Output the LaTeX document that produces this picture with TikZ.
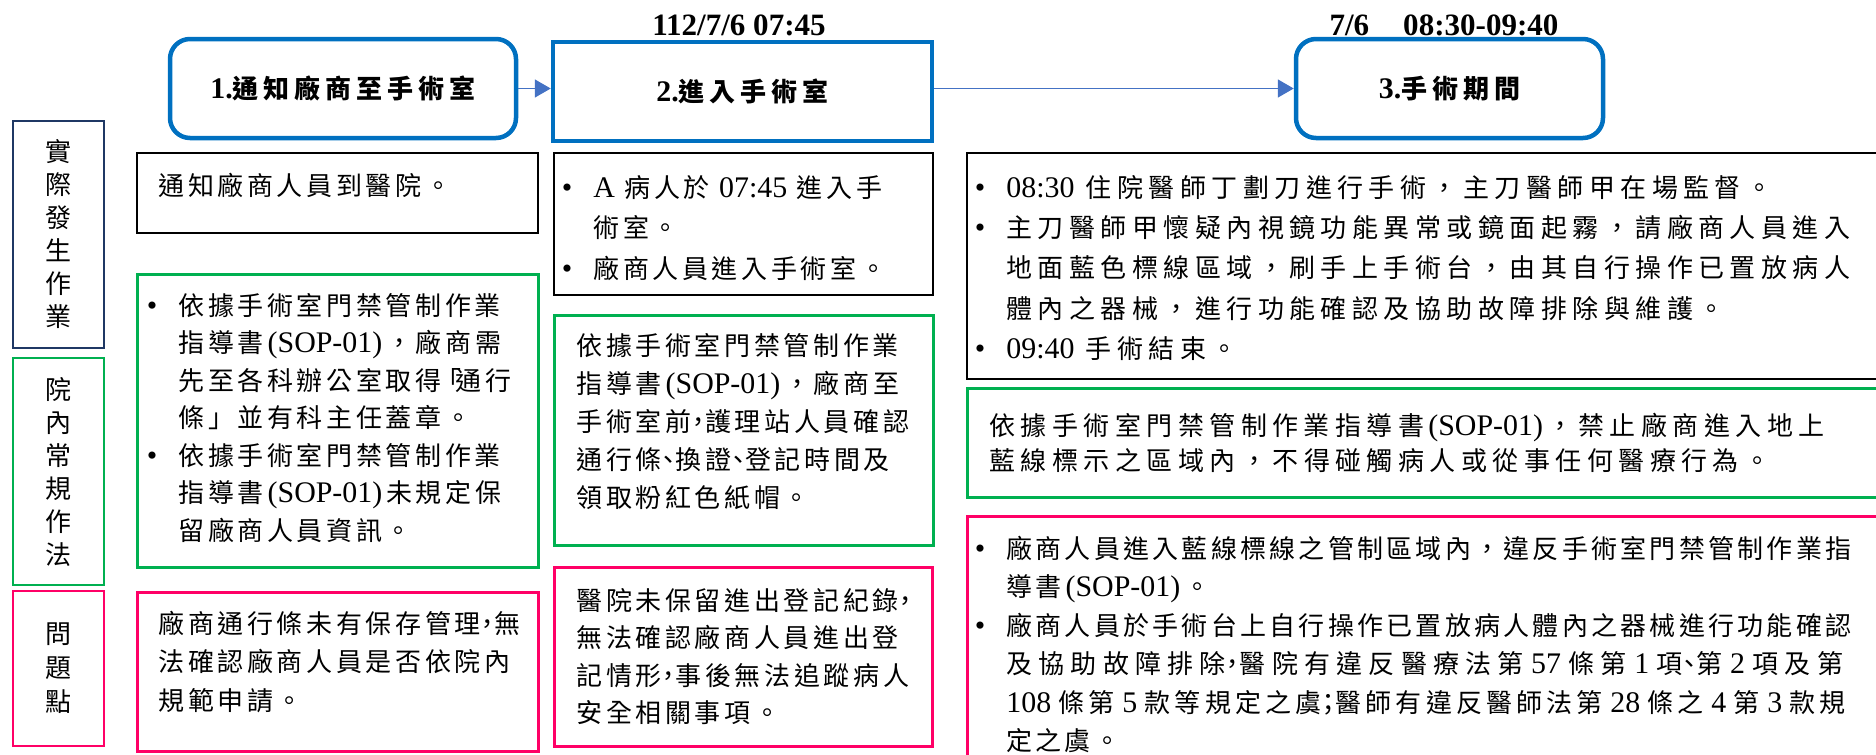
\documentclass[tikz,border=0pt]{standalone}
\usepackage{fontspec}
\usetikzlibrary{arrows.meta}
\setmainfont{Liberation Serif}[Scale=1.15]
\newfontfamily\cjkL[LetterSpace=14]{Noto Sans CJK TC}
\newfontfamily\cjkR[LetterSpace=21]{Noto Sans CJK TC}
\newfontfamily\cjkC[LetterSpace=12.5]{Noto Sans CJK TC}
\newfontfamily\cjkT[LetterSpace=19]{Noto Sans CJK TC}
\newfontfamily\cjkV{Noto Sans CJK TC}
\newcommand\en[1]{{\rmfamily #1}}
\newcommand\tp{\rule{0pt}{12.5pt}}
\newcommand\bul{\llap{\rmfamily •\hspace{10.5pt}}}
\newcommand\nc[1]{\makebox[7pt][c]{#1}}
\newcommand\sop{\hspace{2pt}\en{(SOP-01)}\hspace{2pt}}
\definecolor{tblue}{HTML}{0070C0}
\definecolor{arrblue}{HTML}{4472C4}
\definecolor{navy}{HTML}{1F3864}
\definecolor{grn}{HTML}{00B050}
\definecolor{pnk}{HTML}{FF0066}
\tikzset{
  tbox/.style={draw=tblue, line width=2.25pt, minimum height=49.5pt, inner sep=0pt,
    font=\cjkT\bfseries\fontsize{13}{15}\selectfont},
  cbox/.style={draw=#1, line width=1pt, anchor=north west, inner sep=0pt},
  lbox/.style={draw=#1, line width=1.4pt, inner sep=0pt, minimum width=45.5pt, align=center,
    font=\cjkV\fontsize{13}{16.5}\selectfont},
  txtL/.style={anchor=north west, inner sep=0pt, align=left, font=\cjkL\fontsize{13}{#1}\selectfont},
  txtR/.style={anchor=north west, inner sep=0pt, align=left, font=\cjkR\fontsize{13}{#1}\selectfont},
  txtC/.style={anchor=north west, inner sep=0pt, align=left, font=\cjkC\fontsize{13}{#1}\selectfont},
  arr/.style={draw=arrblue, line width=0.75pt, -{Triangle[length=8pt,width=9pt]}},
  datelbl/.style={inner sep=0pt, font=\bfseries\fontsize{13.5}{16}\selectfont}
}
\begin{document}
\begin{tikzpicture}[x=0.5pt,y=-0.5pt]
\clip (0,0) rectangle (1876,755);
% dates
\node[datelbl] (d1) at (739,25) {112/7/6 07:45};
\node[datelbl] (d2) at (1444,25) {7/6\hspace{17pt}08:30-09:40};
% step boxes
\node[tbox, rounded corners=10pt, minimum width=173pt] (t1) at (343,88.5) {\en{1.}通知廠商至手術室};
\node[tbox, minimum width=189.5pt] (t2) at (742.5,91.5) {\en{2.}進入手術室};
\node[tbox, rounded corners=10pt, minimum width=153.5pt] (t3) at (1449.5,88.5) {\en{3.}手術期間};
\draw[arr] (t1.east) -- (t1.east -| t2.west);
\draw[arr] (t2.east |- t3.west) -- (t3.west);
% row labels
\node[lbox=navy, minimum height=113.5pt] (la) at (58.5,234.5) {實\\際\\發\\生\\作\\業};
\node[lbox=grn, minimum height=113.5pt] (lb) at (58.5,471.5) {院\\內\\常\\規\\作\\法};
\node[lbox=pnk, minimum height=77.5pt, font=\cjkV\fontsize{13}{17}\selectfont] (lc) at (58.5,668.5) {問\\題\\點};
% content boxes
\node[cbox=black, minimum width=200.5pt, minimum height=40pt] (a1) at (136,152) {};
\node[cbox=black, minimum width=189.5pt, minimum height=71pt] (a2) at (553,152) {};
\node[cbox=black, minimum width=467pt, minimum height=113pt] (a3) at (966,152) {};
\node[cbox=grn, line width=1.25pt, minimum width=200.5pt, minimum height=146.5pt] (b1) at (136,273) {};
\node[cbox=grn, line width=1.25pt, minimum width=189.5pt, minimum height=115pt] (b2) at (553,314) {};
\node[cbox=grn, line width=1.25pt, minimum width=467pt, minimum height=54.5pt] (b3) at (966,387) {};
\node[cbox=pnk, line width=1.25pt, minimum width=200.5pt, minimum height=79.5pt] (c1) at (136,591) {};
\node[cbox=pnk, line width=1.25pt, minimum width=189pt, minimum height=89.5pt] (c2) at (553,566) {};
\node[cbox=pnk, line width=1.25pt, minimum width=467pt, minimum height=137.5pt] (c3) at (966,515) {};
% texts
\node[txtL=19.5pt] (a1t) at (158,170) {\tp 通知廠商人員到醫院。};
\node[txtL=20.25pt] (a2t) at (593,172) {\tp\bul\en{A} 病人於 \en{07:45} 進入手\\
術室。\\
\bul 廠商人員進入手術室。};
\node[txtR=20.1pt] (a3t) at (1006,172) {\tp\bul\en{08:30} 住院醫師丁劃刀進行手術，主刀醫師甲在場監督。\\
\bul 主刀醫師甲懷疑內視鏡功能異常或鏡面起霧，請廠商人員進入\\
地面藍色標線區域，刷手上手術台，由其自行操作已置放病人\\
體內之器械，進行功能確認及協助故障排除與維護。\\
\bul\en{09:40} 手術結束。};
\node[txtL=18.75pt] (b1t) at (178,290) {\tp\bul 依據手術室門禁管制作業\\
指導書\sop，廠商需\\
先至各科辦公室取得\nc{「}通行\\
條」並有科主任蓋章。\\
\bul 依據手術室門禁管制作業\\
指導書\sop 未規定保\\
留廠商人員資訊。};
\node[txtL=19pt] (b2t) at (576,330) {\tp 依據手術室門禁管制作業\\
指導書\sop，廠商至\\
手術室前\nc{，}護理站人員確認\\
通行條\nc{、}換證\nc{、}登記時間及\\
領取粉紅色紙帽。};
\node[txtR=17.5pt] (b3t) at (989,410) {\tp 依據手術室門禁管制作業指導書\sop，禁止廠商進入地上\\
藍線標示之區域內，不得碰觸病人或從事任何醫療行為。};
\node[txtL=19.25pt] (c1t) at (158,608) {\tp 廠商通行條未有保存管理\nc{，}無\\
法確認廠商人員是否依院內\\
規範申請。};
\node[txtL=18.65pt] (c2t) at (576,585) {\tp 醫院未保留進出登記紀錄\nc{，}\\
無法確認廠商人員進出登\\
記情形\nc{，}事後無法追蹤病人\\
安全相關事項。};
\node[txtC=19.2pt] (c3t) at (1006,533) {\tp\bul 廠商人員進入藍線標線之管制區域內，違反手術室門禁管制作業指\\
導書\sop。\\
\bul 廠商人員於手術台上自行操作已置放病人體內之器械進行功能確認\\
{\addfontfeature{LetterSpace=24}及協助故障排除\nc{，}醫院有違反醫療法第\en{\ 57\ }條第\en{\ 1\ }項\nc{、}第\en{\ 2\ }項及第}\\
{\addfontfeature{LetterSpace=16}\en{108\ }條第\en{\ 5\ }款等規定之虞\nc{；}醫師有違反醫師法第\en{\ 28\ }條之\en{\ 4\ }第\en{\ 3\ }款規}\\
定之虞。};
\end{tikzpicture}
\end{document}
